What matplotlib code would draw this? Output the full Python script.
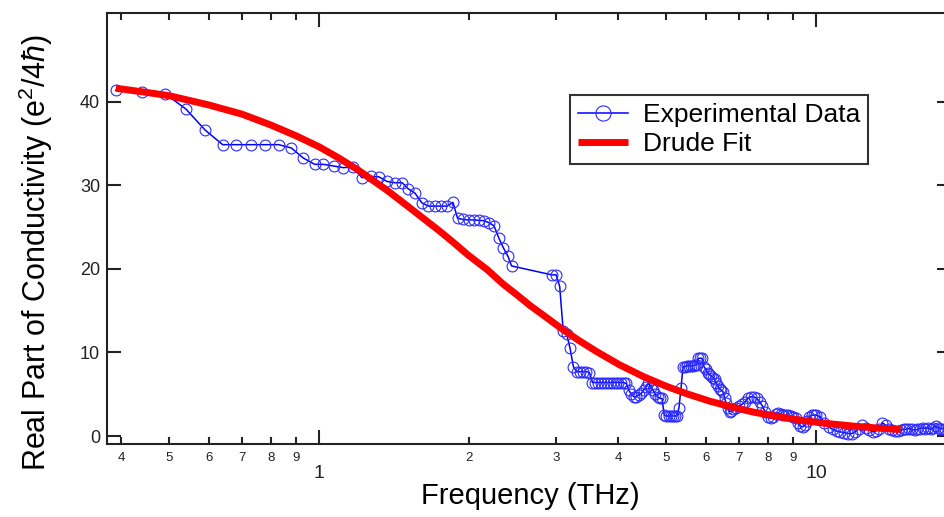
import matplotlib
matplotlib.use('Agg')
import matplotlib.pyplot as plt
from matplotlib.ticker import FixedLocator, FixedFormatter, NullFormatter

# measured conductivity (THz, e^2/4hbar)
EXP_FREQ = [0.39, 0.44, 0.49, 0.54, 0.59, 0.64, 0.68, 0.73, 0.78, 0.83, 0.88, 0.93, 0.98,
            1.02, 1.07, 1.12, 1.17, 1.22, 1.27, 1.32, 1.37, 1.42, 1.47, 1.51, 1.56, 1.61,
            1.66, 1.71, 1.76, 1.81, 1.86, 1.90, 1.95, 2.00, 2.05, 2.10, 2.15, 2.20, 2.25,
            2.30, 2.35, 2.40, 2.44, 2.94, 3.00, 3.05, 3.10, 3.15, 3.20, 3.25, 3.30, 3.35,
            3.40, 3.45, 3.50, 3.55, 3.60, 3.65, 3.70, 3.75, 3.80, 3.85, 3.90, 3.95, 4.00,
            4.05, 4.10, 4.15, 4.20, 4.25, 4.30, 4.35, 4.40, 4.45, 4.50, 4.55, 4.60, 4.65,
            4.70, 4.75, 4.80, 4.85, 4.90, 4.95, 5.00, 5.05, 5.10, 5.15, 5.20, 5.25, 5.30,
            5.35, 5.40, 5.45, 5.50, 5.55, 5.60, 5.65, 5.70, 5.75, 5.80, 5.85, 5.90, 5.95,
            6.00, 6.05, 6.10, 6.15, 6.20, 6.25, 6.30, 6.35, 6.40, 6.45, 6.50, 6.55, 6.60,
            6.65, 6.70, 6.75, 6.80, 6.90, 7.00, 7.10, 7.20, 7.30, 7.40, 7.50, 7.60, 7.70,
            7.80, 7.90, 8.00, 8.10, 8.20, 8.30, 8.40, 8.50, 8.60, 8.70, 8.80, 8.90, 9.00,
            9.10, 9.20, 9.30, 9.40, 9.50, 9.60, 9.70, 9.80, 9.90, 10.0, 10.2, 10.4, 10.6,
            10.8, 11.0, 11.2, 11.4, 11.6, 11.8, 12.0, 12.2, 12.4, 12.6, 12.8, 13.0, 13.2,
            13.4, 13.6, 13.8, 14.0, 14.2, 14.4, 14.6, 14.8, 15.0, 15.2, 15.4, 15.6, 15.8,
            16.0, 16.2, 16.4, 16.6, 16.8, 17.0, 17.2, 17.4, 17.6, 17.8, 18.0, 18.2, 18.4]
EXP_SIGMA = [41.35, 41.2, 40.95, 39.1, 36.6, 34.85, 34.85, 34.85, 34.85, 34.85, 34.45, 33.25, 32.5,
             32.5, 32.3, 32.1, 32.2, 30.9, 31.05, 31.0, 30.45, 30.3, 30.3, 29.6, 29.05, 27.9,
             27.5, 27.5, 27.5, 27.5, 27.95, 26.05, 25.9, 25.85, 25.85, 25.8, 25.75, 25.5, 25.15,
             23.7, 22.5, 21.5, 20.35, 19.28, 19.28, 17.9, 12.6, 12.2, 10.5, 8.3, 7.7, 7.7,
             7.7, 7.7, 7.6, 6.4, 6.4, 6.4, 6.4, 6.4, 6.4, 6.4, 6.4, 6.4, 6.4,
             6.4, 6.4, 6.3, 5.5, 5.0, 4.7, 4.7, 4.9, 5.1, 5.5, 5.9, 6.3, 5.9,
             5.5, 5.0, 4.7, 4.5, 4.5, 2.5, 2.4, 2.4, 2.4, 2.4, 2.4, 2.4, 3.4,
             5.7, 8.3, 8.3, 8.4, 8.4, 8.4, 8.4, 8.5, 8.5, 9.3, 9.3, 9.3, 8.3,
             8.0, 7.6, 7.4, 7.2, 7.0, 6.8, 6.3, 6.0, 5.6, 5.5, 5.3, 4.5, 3.9,
             3.3, 2.9, 3.0, 3.2, 3.3, 3.6, 3.8, 4.1, 4.5, 4.7, 4.7, 4.5, 4.1,
             3.6, 2.9, 2.3, 2.1, 2.3, 2.6, 2.8, 2.6, 2.5, 2.5, 2.5, 2.4, 2.3,
             2.2, 1.6, 1.2, 1.1, 1.3, 1.8, 2.3, 2.5, 2.5, 2.5, 2.3, 1.6, 1.1,
             0.8, 0.6, 0.5, 0.4, 0.3, 0.3, 0.5, 0.9, 1.3, 1.0, 0.7, 0.5, 0.6,
             0.9, 1.6, 1.3, 0.8, 0.7, 0.6, 0.6, 0.7, 0.8, 0.8, 0.9, 0.8, 0.7,
             0.8, 0.9, 1.0, 0.9, 1.0, 0.8, 1.0, 1.2, 1.0, 0.9, 0.9, 0.8, 0.9]

# Drude fit
FIT_FREQ = [0.39, 0.45, 0.5, 0.6, 0.7, 0.8, 0.9, 1.0, 1.1, 1.2, 1.37, 1.5, 1.6, 1.75, 1.86,
            2.0, 2.18, 2.35, 2.5, 2.66, 2.85, 3.1, 3.35, 3.62, 4.03, 4.5, 5.0, 5.5, 6.13,
            6.8, 7.5, 8.5, 9.5, 10.5, 12.0, 13.5, 14.8]
FIT_SIGMA = [41.6, 41.1, 40.7, 39.6, 38.5, 37.2, 35.9, 34.6, 33.2, 31.8, 29.4, 27.6, 26.3,
             24.5, 23.2, 21.6, 19.9, 18.15, 16.9, 15.6, 14.3, 12.7, 11.35, 10.1, 8.5, 7.1,
             5.95, 5.05, 4.15, 3.45, 2.85, 2.27, 1.83, 1.5, 1.17, 0.93, 0.77]

MAJOR_X = [1, 10]
MINOR_X = [0.4, 0.5, 0.6, 0.7, 0.8, 0.9, 2, 3, 4, 5, 6, 7, 8, 9]
MINOR_LABELS = ['4', '5', '6', '7', '8', '9', '2', '3', '4', '5', '6', '7', '8', '9']
Y_TICKS = [0, 10, 20, 30, 40]

INK = '#222222'

plt.rcParams.update({
    'font.family': ['Liberation Sans', 'DejaVu Sans'],
    'mathtext.fontset': 'custom',
    'mathtext.rm': 'Liberation Sans',
    'mathtext.it': 'Liberation Sans:italic',
    'axes.linewidth': 1.5,
    'axes.edgecolor': INK,
})

fig = plt.figure(figsize=(9.44, 5.17), dpi=100)
ax = fig.add_axes([0.1133, 0.1412, 0.8941, 0.8337])

ax.plot(EXP_FREQ, EXP_SIGMA, color='#0000ff', lw=1.1, marker='o', ms=7.8,
        mfc='none', mec='#2a2aff', mew=0.8, label='Experimental Data', zorder=2)
ax.plot(FIT_FREQ, FIT_SIGMA, color='#ff0000', lw=5, solid_capstyle='butt',
        solid_joinstyle='round', label='Drude Fit', zorder=3)

ax.set_xscale('log')
ax.set_xlim(0.3744, 18.69)
ax.set_ylim(-0.95, 50.6)

ax.xaxis.set_major_locator(FixedLocator(MAJOR_X))
ax.xaxis.set_major_formatter(FixedFormatter(['1', '10']))
ax.xaxis.set_minor_locator(FixedLocator(MINOR_X))
ax.xaxis.set_minor_formatter(FixedFormatter(MINOR_LABELS))
ax.set_yticks(Y_TICKS)
ax.yaxis.set_minor_formatter(NullFormatter())

ax.tick_params(axis='x', which='major', direction='in', length=10, width=1.5,
               top=True, pad=15, labelsize=14, colors=INK)
ax.tick_params(axis='x', which='minor', direction='in', length=5, width=1.5,
               top=True, pad=6, labelsize=9.5, colors=INK)
ax.tick_params(axis='y', which='major', direction='in', length=10, width=1.5,
               right=True, pad=5, labelsize=13, colors=INK)
ax.tick_params(axis='y', which='minor', left=False, right=False)

ax.set_xlabel('Frequency (THz)', fontsize=21, va='top')
ax.xaxis.set_label_coords(0.502, -0.088)
ax.set_ylabel('Real Part of Conductivity (e$^2$/4$\\hbar$)', fontsize=22)
ax.yaxis.set_label_coords(-0.062, 0.445)

leg = ax.legend(loc='upper left', bbox_to_anchor=(0.549, 0.81), borderaxespad=0,
                fontsize=19, frameon=True, fancybox=False, edgecolor='black',
                handlelength=1.9, handletextpad=0.55, labelspacing=0.2,
                borderpad=0.3, markerscale=1.4)
leg.get_frame().set_linewidth(1.5)

fig.savefig('out.png', dpi=100, facecolor='white')
